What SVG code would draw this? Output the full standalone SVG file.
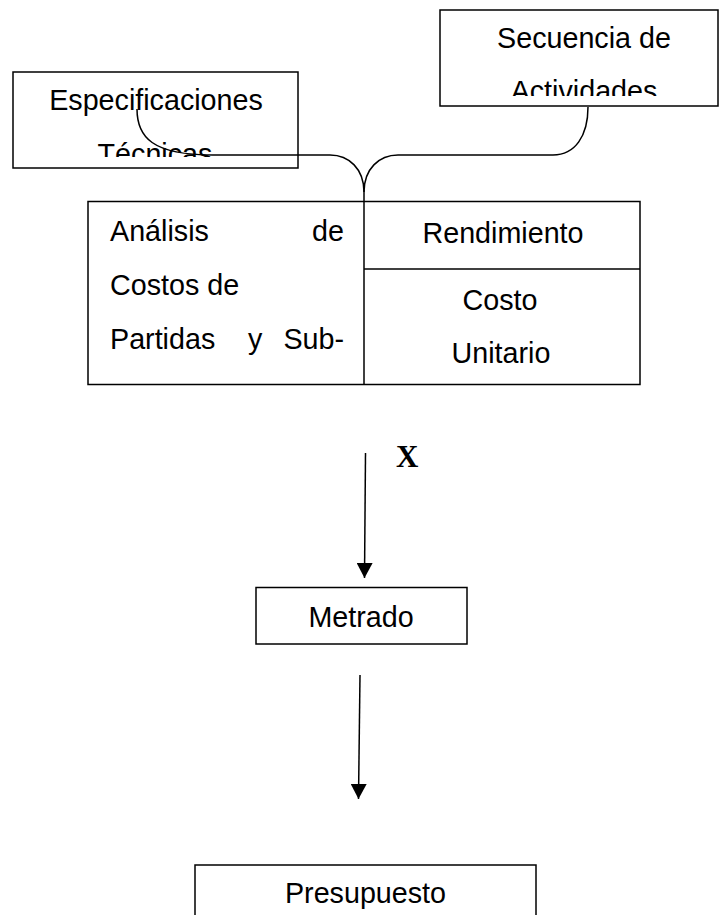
<svg xmlns="http://www.w3.org/2000/svg" width="720" height="915" viewBox="0 0 720 915">
<style>
.box{fill:#fff;stroke:#000;stroke-width:1.5}
.ln{fill:none;stroke:#000;stroke-width:1.5}
.t{font-family:"Liberation Sans",Arial,sans-serif;font-size:28.7px;fill:#000}
.c{text-anchor:middle}
.x{font-family:"Liberation Serif","Times New Roman",serif;font-size:31px;font-weight:bold;fill:#000}
</style>
<defs>
<clipPath id="clipEsp"><rect x="14" y="73" width="283" height="84"/></clipPath>
<clipPath id="clipSec"><rect x="441" y="11" width="276" height="85"/></clipPath>
<marker id="arr" viewBox="0 0 15 16" refX="15" refY="8" markerWidth="15" markerHeight="16" markerUnits="userSpaceOnUse" orient="auto">
<path d="M0,0 L15,8 L0,16 Z" fill="#000"/>
</marker>
</defs>
<rect width="720" height="915" fill="#fff"/>

<g id="especificaciones">
<rect class="box" x="13" y="72" width="285" height="96"/>
<g clip-path="url(#clipEsp)">
<text class="t c" x="156" y="110">Especificaciones</text>
<text class="t c" x="155" y="163.5">Técnicas</text>
</g>
</g>

<g id="secuencia">
<rect class="box" x="440" y="10" width="278" height="96"/>
<g clip-path="url(#clipSec)">
<text class="t c" x="584" y="47.7">Secuencia de</text>
<text class="t c" x="584" y="100.6">Actividades</text>
</g>
</g>

<g id="analisis">
<rect class="box" x="88" y="201.5" width="552" height="183"/>
<line class="ln" x1="364" y1="201.5" x2="364" y2="384.5"/>
<line class="ln" x1="364" y1="269" x2="640" y2="269"/>
<text class="t" y="241"><tspan x="110">Análisis</tspan><tspan x="344" text-anchor="end">de</tspan></text>
<text class="t" x="110" y="294.6">Costos de</text>
<text class="t" y="349"><tspan x="110">Partidas</tspan><tspan x="248">y</tspan><tspan x="344" text-anchor="end">Sub-</tspan></text>
<text class="t c" x="503" y="243">Rendimiento</text>
<text class="t c" x="500" y="309.6">Costo</text>
<text class="t c" x="501" y="363">Unitario</text>
</g>

<g id="metrado">
<rect class="box" x="256" y="587.5" width="211" height="56.5"/>
<text class="t c" x="361" y="627">Metrado</text>
</g>

<g id="presupuesto">
<rect class="box" x="195" y="865" width="341" height="70"/>
<text class="t c" x="365.5" y="903">Presupuesto</text>
</g>

<g id="connectors">
<path class="ln" d="M137,109 C137,137 152,155 213,155 H330 C349,155 364,169 364,192 C364,169 379,155 398,155 H553 C575,155 588,136 588,107"/>
<line class="ln" x1="364" y1="190" x2="364" y2="202"/>
<line class="ln" x1="365.5" y1="453" x2="364.5" y2="578" marker-end="url(#arr)"/>
<line class="ln" x1="360" y1="675" x2="358.5" y2="799" marker-end="url(#arr)"/>
<text class="x" x="396" y="467">X</text>
</g>
</svg>
